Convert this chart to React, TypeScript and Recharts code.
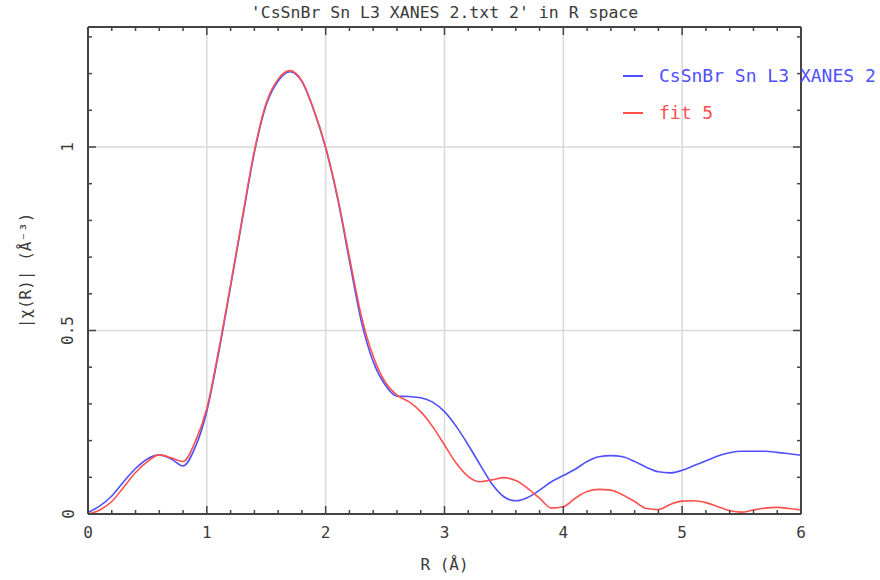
import { CartesianGrid, Legend, Line, LineChart, XAxis, YAxis } from "recharts";

// R grid (Å) and the two |chi(R)| curves
const rValues = [
  0, 0.1, 0.2, 0.3, 0.4, 0.5, 0.6, 0.7, 0.8, 0.9,
  1, 1.1, 1.2, 1.3, 1.4, 1.5, 1.6, 1.7, 1.8, 1.9,
  2, 2.1, 2.2, 2.3, 2.4, 2.5, 2.6, 2.7, 2.8, 2.9,
  3, 3.1, 3.2, 3.3, 3.4, 3.5, 3.6, 3.7, 3.8, 3.9,
  4, 4.1, 4.2, 4.3, 4.4, 4.5, 4.6, 4.7, 4.8, 4.9,
  5, 5.1, 5.2, 5.3, 5.4, 5.5, 5.6, 5.7, 5.8, 5.9, 6,
];

const dataValues = [
  0.004, 0.022, 0.049, 0.088, 0.124, 0.15, 0.161, 0.15, 0.131, 0.18,
  0.28, 0.44, 0.62, 0.805, 0.985, 1.115, 1.18, 1.205, 1.178, 1.1,
  0.997, 0.86, 0.69, 0.525, 0.415, 0.352, 0.321, 0.32, 0.317, 0.305,
  0.279, 0.238, 0.188, 0.134, 0.082, 0.047, 0.036, 0.045, 0.065, 0.088,
  0.105, 0.122, 0.143, 0.156, 0.159, 0.156, 0.143, 0.127, 0.115, 0.112,
  0.119, 0.132, 0.145, 0.158, 0.167, 0.171, 0.171, 0.171, 0.168, 0.164, 0.16,
];

const fitValues = [
  0, 0.011, 0.034, 0.073, 0.113, 0.143, 0.161, 0.153, 0.143, 0.195,
  0.288, 0.447, 0.625, 0.81, 0.99, 1.12, 1.185, 1.208, 1.18, 1.102,
  1.0, 0.865, 0.7, 0.54, 0.43, 0.36, 0.324, 0.306, 0.279, 0.238,
  0.188, 0.138, 0.102, 0.088, 0.093, 0.099, 0.091, 0.07, 0.043, 0.016,
  0.02, 0.043, 0.061, 0.067, 0.065, 0.052, 0.034, 0.015, 0.012, 0.026,
  0.035, 0.036, 0.031, 0.02, 0.009, 0.005, 0.011, 0.016, 0.018, 0.015, 0.011,
];

const xTicks = [
  0, 0.2, 0.4, 0.6, 0.8, 1, 1.2, 1.4, 1.6, 1.8, 2, 2.2, 2.4, 2.6, 2.8, 3,
  3.2, 3.4, 3.6, 3.8, 4, 4.2, 4.4, 4.6, 4.8, 5, 5.2, 5.4, 5.6, 5.8, 6,
];
const xLabels = [0, 1, 2, 3, 4, 5, 6];
const yTicks = [0, 0.1, 0.2, 0.3, 0.4, 0.5, 0.6, 0.7, 0.8, 0.9, 1, 1.1, 1.2, 1.3];
const yLabels = [0, 0.5, 1];

const seriesNames = ["CsSnBr Sn L3 XANES 2", "fit 5"];
const title = "'CsSnBr Sn L3 XANES 2.txt 2' in R space";

const chartData = rValues.map((r, i) => ({ r, data: dataValues[i], fit: fitValues[i] }));

const FONT = "'DejaVu Sans Mono', monospace";
const INK = "#3a3a3a";
const AXIS = "#444";
const BLUE = "#4f4fff";
const RED = "#ff5050";

function BottomTick({ x, y, payload }: any) {
  const major = xLabels.includes(payload.value);
  return (
    <g>
      <line x1={x} x2={x} y1={y} y2={y - (major ? 8 : 4)} stroke={AXIS} strokeWidth={1.5} />
      {major && (
        <text x={x} y={y + 24} textAnchor="middle" fontFamily={FONT} fontSize={16} fill={INK}>
          {payload.value}
        </text>
      )}
    </g>
  );
}

function TopTick({ x, y, payload }: any) {
  const major = xLabels.includes(payload.value);
  return <line x1={x} x2={x} y1={y} y2={y + (major ? 8 : 4)} stroke={AXIS} strokeWidth={1.5} />;
}

function LeftTick({ x, y, payload }: any) {
  const major = yLabels.includes(payload.value);
  return (
    <g>
      <line x1={x} x2={x + (major ? 8 : 4)} y1={y} y2={y} stroke={AXIS} strokeWidth={1.5} />
      {major && (
        <text
          x={68}
          y={y}
          transform={`rotate(-90, 68, ${y})`}
          textAnchor="middle"
          dominantBaseline="central"
          fontFamily={FONT}
          fontSize={16}
          fill={INK}
        >
          {payload.value}
        </text>
      )}
    </g>
  );
}

function RightTick({ x, y, payload }: any) {
  const major = yLabels.includes(payload.value);
  return <line x1={x} x2={x - (major ? 8 : 4)} y1={y} y2={y} stroke={AXIS} strokeWidth={1.5} />;
}

function LegendBox() {
  const colors = [BLUE, RED];
  return (
    <div style={{ fontFamily: FONT, fontSize: 18 }}>
      {seriesNames.map((name, i) => (
        <div key={name} style={{ display: "flex", alignItems: "center", height: 37, color: colors[i] }}>
          <span style={{ display: "inline-block", width: 20, height: 2, background: colors[i], marginRight: 16 }} />
          <span style={{ whiteSpace: "nowrap" }}>{name}</span>
        </div>
      ))}
    </div>
  );
}

export default function App() {
  return (
    <div style={{ position: "absolute", left: 0, top: 0, width: 880, height: 580, background: "#fff" }}>
      <div
        style={{
          position: "absolute",
          left: 88,
          width: 713,
          top: 4,
          textAlign: "center",
          fontFamily: FONT,
          fontSize: 16.5,
          lineHeight: "18px",
          color: INK,
          whiteSpace: "nowrap",
        }}
      >
        {title}
      </div>
      <LineChart width={880} height={580} data={chartData} margin={{ top: 26, right: 78, bottom: 6, left: 0 }}>
        <CartesianGrid
          stroke="#d9d9d9"
          strokeWidth={1.5}
          verticalValues={[1, 2, 3, 4, 5]}
          horizontalValues={[0.5, 1]}
        />
        <XAxis
          dataKey="r"
          type="number"
          domain={[0, 6]}
          ticks={xTicks}
          interval={0}
          height={60}
          tickSize={0}
          tickMargin={0}
          tickLine={false}
          tick={BottomTick}
          axisLine={{ stroke: AXIS, strokeWidth: 2 }}
          label={{ value: "R (Å)", position: "insideBottom", offset: 4, fontFamily: FONT, fontSize: 16, fill: INK }}
        />
        <XAxis
          xAxisId="top"
          orientation="top"
          dataKey="r"
          type="number"
          domain={[0, 6]}
          ticks={xTicks}
          interval={0}
          height={1}
          tickSize={0}
          tickMargin={0}
          tickLine={false}
          tick={TopTick}
          axisLine={{ stroke: AXIS, strokeWidth: 2 }}
        />
        <YAxis
          type="number"
          domain={[0, 1.327]}
          allowDataOverflow
          ticks={yTicks}
          interval={0}
          width={88}
          tickSize={0}
          tickMargin={0}
          tickLine={false}
          tick={LeftTick}
          axisLine={{ stroke: AXIS, strokeWidth: 2 }}
          label={{
            value: "|χ(R)| (Å⁻³)",
            angle: -90,
            position: "insideLeft",
            offset: 25,
            fontFamily: FONT,
            fontSize: 16,
            fill: INK,
            style: { textAnchor: "middle" },
          }}
        />
        <YAxis
          yAxisId="right"
          orientation="right"
          type="number"
          domain={[0, 1.327]}
          allowDataOverflow
          ticks={yTicks}
          interval={0}
          width={1}
          tickSize={0}
          tickMargin={0}
          tickLine={false}
          tick={RightTick}
          axisLine={{ stroke: AXIS, strokeWidth: 2 }}
        />
        <Legend
          layout="vertical"
          align="center"
          verticalAlign="middle"
          content={<LegendBox />}
          wrapperStyle={{ left: 623, top: 57, width: 257 }}
        />
        <Line
          type="monotone"
          dataKey="data"
          name={seriesNames[0]}
          stroke={BLUE}
          strokeWidth={1.6}
          dot={false}
          isAnimationActive={false}
        />
        {/* fit drawn on the mirrored top/right axes (same domains) so the frame is complete */}
        <Line
          xAxisId="top"
          yAxisId="right"
          type="monotone"
          dataKey="fit"
          name={seriesNames[1]}
          stroke={RED}
          strokeWidth={1.6}
          dot={false}
          isAnimationActive={false}
        />
      </LineChart>
    </div>
  );
}
